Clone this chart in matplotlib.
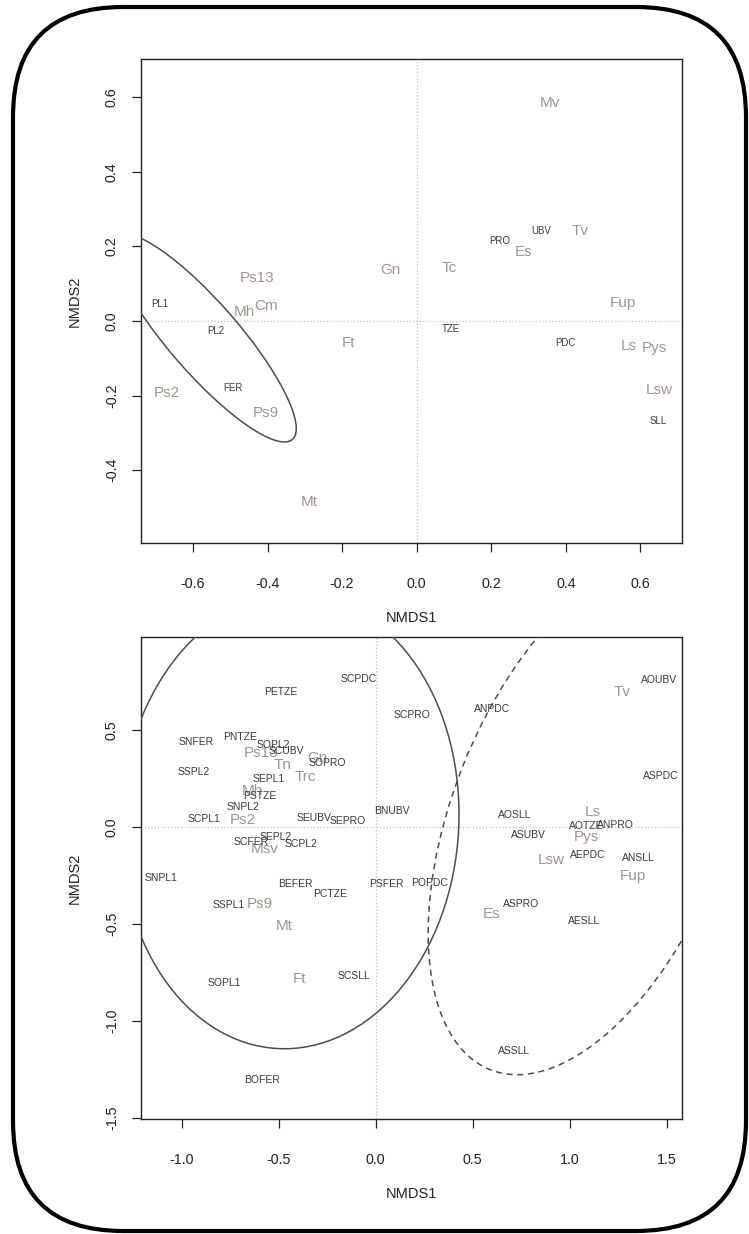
"""NMDS ordination (two panels) with site and species labels"""
import matplotlib
matplotlib.use("Agg")
import matplotlib.pyplot as plt
from matplotlib.patches import Ellipse, FancyBboxPatch

plt.rcParams["font.family"] = ["Liberation Sans", "DejaVu Sans"]
plt.rcParams["axes.unicode_minus"] = False

W_PX, H_PX, DPI = 749, 1234, 100

SITE_C = "#3a3a3a"
SPP_C = "#a0968a"
ZERO_C = "#cdbdac"
ELL_C = "#4d4d4d"
FRAME = "#222222"

# ---- upper panel ----
top_site_lab = ["PL1", "PL2", "FER", "PRO", "UBV", "TZE", "PDC", "SLL"]
top_site_x = [-0.690, -0.538, -0.494, 0.224, 0.335, 0.093, 0.400, 0.647]
top_site_y = [0.045, -0.027, -0.180, 0.214, 0.241, -0.022, -0.060, -0.267]

top_spp_lab = ["Mv", "Tv", "Es", "Gn", "Tc", "Ps13", "Mh", "Cm", "Ft",
               "Fup", "Ls", "Pys", "Lsw", "Ps2", "Ps9", "Mt"]
top_spp_x = [0.357, 0.438, 0.286, -0.070, 0.087, -0.427, -0.463, -0.403, -0.184,
             0.553, 0.569, 0.636, 0.651, -0.670, -0.405, -0.289]
top_spp_y = [0.583, 0.241, 0.185, 0.136, 0.141, 0.114, 0.025, 0.040, -0.058,
             0.049, -0.067, -0.073, -0.186, -0.193, -0.247, -0.484]

top_xticks = [-0.6, -0.4, -0.2, 0.0, 0.2, 0.4, 0.6]
top_yticks = [-0.4, -0.2, 0.0, 0.2, 0.4, 0.6]

# ---- lower panel ----
bot_site_lab = ["SCPDC", "PETZE", "SCPRO", "ANPDC", "AOUBV", "SNFER", "PNTZE",
                "SOPL2", "SCUBV", "SOPRO", "SSPL2", "SEPL1", "ASPDC", "PSTZE",
                "SNPL2", "SCPL1", "SEUBV", "SEPRO", "BNUBV", "AOSLL", "AOTZE",
                "ANPRO", "ASUBV", "SEPL2", "SCFER", "SCPL2", "AEPDC", "ANSLL",
                "SNPL1", "BEFER", "PCTZE", "PSFER", "POPDC", "SSPL1", "ASPRO",
                "AESLL", "SOPL1", "SCSLL", "ASSLL", "BOFER"]
bot_site_x = [-0.086, -0.490, 0.188, 0.599, 1.459, -0.925, -0.699,
              -0.527, -0.459, -0.250, -0.935, -0.553, 1.467, -0.596,
              -0.682, -0.883, -0.318, -0.142, 0.081, 0.718, 1.083,
              1.233, 0.787, -0.517, -0.644, -0.387, 1.091, 1.354,
              -1.106, -0.416, -0.236, 0.055, 0.277, -0.759, 0.749,
              1.074, -0.780, -0.111, 0.710, -0.587]
bot_site_y = [0.760, 0.696, 0.578, 0.606, 0.757, 0.437, 0.465,
              0.421, 0.393, 0.329, 0.282, 0.248, 0.263, 0.162,
              0.103, 0.043, 0.046, 0.029, 0.080, 0.063, 0.003,
              0.010, -0.040, -0.051, -0.079, -0.089, -0.147, -0.159,
              -0.264, -0.293, -0.344, -0.293, -0.291, -0.403, -0.399,
              -0.485, -0.806, -0.767, -1.156, -1.307]

bot_spp_lab = ["Tv", "Ps13", "Gn", "Tn", "Trc", "Mh", "Ps2", "Msv",
               "Ls", "Pys", "Lsw", "Fup", "Ps9", "Mt", "Es", "Ft"]
bot_spp_x = [1.270, -0.590, -0.299, -0.479, -0.360, -0.635, -0.682, -0.570,
             1.118, 1.083, 0.906, 1.326, -0.598, -0.472, 0.595, -0.394]
bot_spp_y = [0.693, 0.380, 0.354, 0.318, 0.255, 0.183, 0.037, -0.113,
             0.079, -0.053, -0.172, -0.254, -0.399, -0.511, -0.450, -0.784]

bot_xticks = [-1.0, -0.5, 0.0, 0.5, 1.0, 1.5]
bot_yticks = [-1.5, -1.0, -0.5, 0.0, 0.5]

# group ellipses: (centre, width, height, angle)
top_ell = ((-0.570, -0.045), 0.722, 0.188, -49.0)
bot_ell_solid = ((-0.443, 0.028), 1.742, 2.344, -3.0)
bot_ell_dash = ((1.103, 0.050), 2.798, 1.411, 68.5)


def px_rect(left, top, right, bottom):
    """pixel box (image coords) -> figure fraction rect"""
    return [left / W_PX, 1 - bottom / H_PX, (right - left) / W_PX, (bottom - top) / H_PX]


def _style_ax(ax, xlim, ylim, xticks, yticks):
    ax.set_xlim(*xlim)
    ax.set_ylim(*ylim)
    ax.set_xticks(xticks)
    ax.set_yticks(yticks)
    ax.set_xticklabels([f"{v:.1f}" for v in xticks])
    ax.set_yticklabels([f"{v:.1f}" for v in yticks], rotation=90, va="center")
    ax.tick_params(axis="both", direction="out", length=6.5, width=0.9,
                   colors=FRAME, labelsize=10.3)
    ax.tick_params(axis="x", pad=18)
    ax.tick_params(axis="y", pad=9)
    for spine in ax.spines.values():
        spine.set_color(FRAME)
        spine.set_linewidth(1.0)
    ax.axhline(0, color=ZERO_C, linestyle=":", linewidth=0.9, zorder=1)
    ax.axvline(0, color=ZERO_C, linestyle=":", linewidth=0.9, zorder=1)
    ax.set_xlabel("NMDS1", fontsize=10.5, color=FRAME)
    ax.set_ylabel("NMDS2", fontsize=10.5, color=FRAME)
    h = ax.get_position().height * H_PX
    w = ax.get_position().width * W_PX
    ax.xaxis.set_label_coords(0.5, -75 / h)
    ax.xaxis.label.set_va("center")
    ax.yaxis.set_label_coords(-66 / w, 0.5)
    ax.yaxis.label.set_va("center")


def _labels(ax, labs, xs, ys, color, size):
    for s, x, y in zip(labs, xs, ys):
        ax.text(x, y, s, ha="center", va="center", color=color,
                fontsize=size, zorder=4, clip_on=True)


def _ellipse(ax, spec, ls="-"):
    (cx, cy), w, h, ang = spec
    ax.add_patch(Ellipse((cx, cy), w, h, angle=ang, fill=False,
                         edgecolor=ELL_C, linewidth=1.1, linestyle=ls, zorder=3))


fig = plt.figure(figsize=(W_PX / DPI, H_PX / DPI), dpi=DPI, facecolor="white")

# rounded outer frame
bg = fig.add_axes([0, 0, 1, 1])
bg.set_xlim(0, W_PX)
bg.set_ylim(0, H_PX)
bg.axis("off")
bg.add_patch(FancyBboxPatch((13, 3), 733, 1224,
                            boxstyle="round,pad=0,rounding_size=110",
                            fill=False, edgecolor="black", linewidth=3.0))

# --- upper panel ---
ax1 = fig.add_axes(px_rect(140.5, 59, 682, 543))
_style_ax(ax1, (-0.7405, 0.7113), (-0.595, 0.702), top_xticks, top_yticks)
_ellipse(ax1, top_ell)
_labels(ax1, top_spp_lab, top_spp_x, top_spp_y, SPP_C, 11)
_labels(ax1, top_site_lab, top_site_x, top_site_y, SITE_C, 7.0)

# --- lower panel ---
ax2 = fig.add_axes(px_rect(140.5, 637, 682, 1119.3))
_style_ax(ax2, (-1.2115, 1.5774), (-1.507, 0.979), bot_xticks, bot_yticks)
_ellipse(ax2, bot_ell_solid)
_ellipse(ax2, bot_ell_dash, ls=(0, (4, 3)))
_labels(ax2, bot_spp_lab, bot_spp_x, bot_spp_y, SPP_C, 11)
_labels(ax2, bot_site_lab, bot_site_x, bot_site_y, SITE_C, 7.5)

fig.savefig("out.png", dpi=DPI, facecolor="white")
plt.close(fig)
